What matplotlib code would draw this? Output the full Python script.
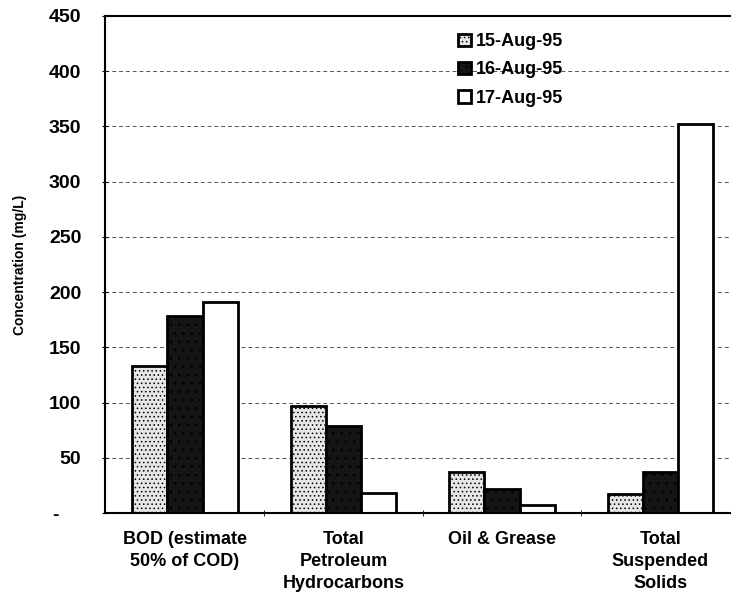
import matplotlib
matplotlib.use("Agg")
import matplotlib.pyplot as plt
import numpy as np

categories = ["BOD (estimate\n50% of COD)", "Total\nPetroleum\nHydrocarbons",
              "Oil & Grease", "Total\nSuspended\nSolids"]
dates = ["15-Aug-95", "16-Aug-95", "17-Aug-95"]
aug15 = [133, 97, 37, 17]
aug16 = [178, 79, 22, 37]
aug17 = [191, 18, 7, 352]
yticks = [0, 50, 100, 150, 200, 250, 300, 350, 400, 450]
ytick_labels = ["-    ", "50", "100", "150", "200", "250", "300", "350", "400", "450"]

plt.rcParams["font.family"] = ["Liberation Sans", "DejaVu Sans"]
plt.rcParams["font.weight"] = "bold"
plt.rcParams["hatch.linewidth"] = 0.6

fig = plt.figure(figsize=(7.31, 5.97), dpi=100)
ax = fig.add_axes([105/731, 1 - 513/597, 1 - 105/731, (513 - 16)/597])

x = np.arange(len(categories))
w = 0.222
styles = [
    dict(facecolor="#e6e6e6", hatch="....", edgecolor="black"),
    dict(facecolor="#151515", hatch="..", edgecolor="black"),
    dict(facecolor="white", edgecolor="black"),
]
for i, (vals, st) in enumerate(zip([aug15, aug16, aug17], styles)):
    ax.bar(x + (i - 1) * w, vals, w, label=dates[i], linewidth=2, **st)

ax.set_xlim(-0.505, 3.445)
ax.set_ylim(0, 450)
ax.set_yticks(yticks)
ax.set_yticklabels(ytick_labels, fontsize=14, fontweight="bold")
ax.set_xticks(x)
ax.set_xticklabels(categories, fontsize=13, fontweight="bold", linespacing=1.4)
ax.tick_params(axis="x", length=0, pad=13)
ax.set_xticks(np.arange(0.5, 3.5, 1), minor=True)
ax.tick_params(axis="x", which="minor", length=5, direction="inout")
ax.tick_params(axis="y", length=4, direction="inout", pad=15)

ax.yaxis.grid(True, linestyle=(0, (4, 3)), color="#555555", linewidth=0.7)
ax.set_axisbelow(True)

for s in ["left", "bottom", "top"]:
    ax.spines[s].set_linewidth(1.5)
ax.spines["right"].set_visible(False)

ax.set_ylabel("Concentration (mg/L)", fontsize=10, fontweight="bold", labelpad=16)

leg = ax.legend(loc="upper left", bbox_to_anchor=(0.538, 0.998), frameon=False,
                fontsize=13, handlelength=0.7, handleheight=0.7, handletextpad=0.3,
                labelspacing=0.62)
for t in leg.get_texts():
    t.set_fontweight("bold")

fig.savefig("out.png", dpi=100)
